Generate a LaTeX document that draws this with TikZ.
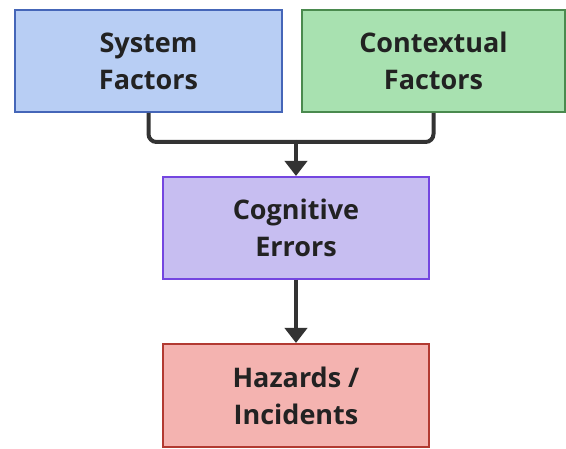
\documentclass[tikz,border=0pt]{standalone}
\usepackage{fontspec}
\setmainfont{Open Sans}
\usetikzlibrary{arrows.meta}
\definecolor{sysfill}{HTML}{B8CEF4}
\definecolor{sysdraw}{HTML}{4566B8}
\definecolor{ctxfill}{HTML}{A8E1B0}
\definecolor{ctxdraw}{HTML}{4A8A4E}
\definecolor{cogfill}{HTML}{C7BEF1}
\definecolor{cogdraw}{HTML}{7446E0}
\definecolor{hazfill}{HTML}{F4B3B0}
\definecolor{hazdraw}{HTML}{B23A32}
\definecolor{conn}{HTML}{333333}
\definecolor{ink}{HTML}{222222}
\tikzset{
  box/.style={rectangle, line width=2pt, minimum height=102pt, inner sep=0pt,
    align=center, text=ink,
    font=\bfseries\fontsize{27}{37}\selectfont},
  link/.style={draw=conn, line width=4pt, rounded corners=8pt},
  linkarrow/.style={link, -{Triangle[width=22pt,length=15pt]}}
}
\begin{document}
\begin{tikzpicture}[x=1pt,y=1pt]
  \useasboundingbox (0,0) rectangle (566,448);
  \node[box, fill=sysfill, draw=sysdraw, minimum width=267pt] (sys) at (148.5,387) {System\\Factors};
  \node[box, fill=ctxfill, draw=ctxdraw, minimum width=263pt] (ctx) at (433.5,387) {Contextual\\Factors};
  \node[box, fill=cogfill, draw=cogdraw, minimum width=266pt] (cog) at (296,220) {Cognitive\\Errors};
  \node[box, fill=hazfill, draw=hazdraw, minimum width=266pt, minimum height=103pt] (haz) at (296,52.5) {Hazards /\\Incidents};
  \coordinate (join) at (296,306);
  \draw[link] (sys.south) |- (join);
  \draw[link] (ctx.south) |- (join);
  \draw[linkarrow] (join) -- (cog.north);
  \draw[linkarrow] (cog.south) -- (haz.north);
\end{tikzpicture}
\end{document}
